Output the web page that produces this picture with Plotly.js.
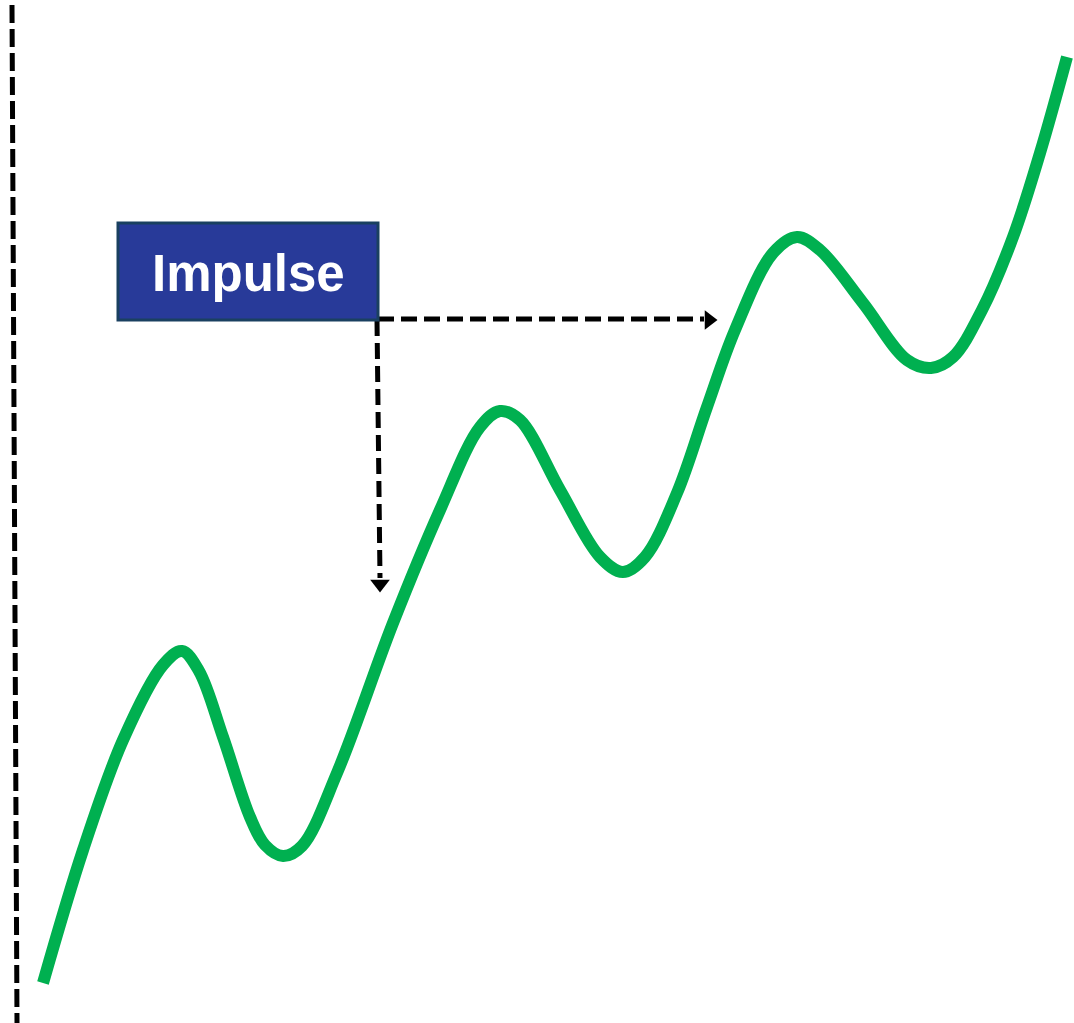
<!DOCTYPE html>
<html>
<head>
<meta charset="utf-8">
<script src="https://cdn.plot.ly/plotly-3.0.1.min.js"></script>
<style>html,body{margin:0;padding:0;background:#fff;}#chart{width:1074px;height:1023px;}</style>
</head>
<body>
<div id="chart"></div>
<script>
// Price path (diagram units: x to the right, y downward)
const pathX = [43, 83, 123, 163, 182, 199, 223, 250, 265, 283, 302, 337, 393, 440, 480, 500, 520, 560, 600, 623, 645, 677, 707, 735, 773, 797, 820, 863, 907, 931, 953, 982, 1013, 1040, 1067];
const pathY = [983, 850, 740, 665, 651, 671, 737, 817, 845, 856, 846, 773, 623, 510, 427, 411, 420, 490, 557, 572, 557, 493, 407, 330, 253, 237, 250, 303, 360, 368, 357, 310, 237, 153, 57];

// Dashed vertical reference line
const refLineX = [12, 17];
const refLineY = [5, 1023];

// Label box
const boxX = [118, 378];
const boxY = [223, 320];
const labelText = "Impulse";

// Arrows from box corner
const arrowOrigin = [378, 320];
const arrowRightEnd = [704, 320];
const arrowDownEnd = [380, 578];
const headRight = {x: [709], y: [320]};
const headDown = {x: [380], y: [584]};

const traces = [
  {x: pathX, y: pathY, mode: 'lines', line: {color: '#00b050', width: 12, shape: 'spline', smoothing: 1, simplify: false}, hoverinfo: 'skip'},
  {x: headRight.x, y: headRight.y, mode: 'markers', marker: {symbol: 'triangle-right', size: 17, color: '#000'}, hoverinfo: 'skip'},
  {x: headDown.x, y: headDown.y, mode: 'markers', marker: {symbol: 'triangle-down', size: 17, color: '#000'}, hoverinfo: 'skip'}
];

const layout = {
  width: 1074, height: 1023,
  margin: {l: 0, r: 0, t: 0, b: 0},
  paper_bgcolor: '#fff', plot_bgcolor: '#fff',
  showlegend: false,
  xaxis: {range: [0, 1074], visible: false, fixedrange: true},
  yaxis: {range: [1023, 0], visible: false, fixedrange: true},
  shapes: [
    {type: 'line', xref: 'x', yref: 'y', x0: refLineX[0], x1: refLineX[1], y0: refLineY[0], y1: refLineY[1], line: {color: '#000', width: 5, dash: '18px,6px'}},
    {type: 'line', xref: 'x', yref: 'y', x0: arrowOrigin[0], x1: arrowRightEnd[0], y0: arrowOrigin[1] - 1, y1: arrowRightEnd[1] - 1, line: {color: '#000', width: 5, dash: '16px,7px'}},
    {type: 'line', xref: 'x', yref: 'y', x0: arrowOrigin[0] - 1, x1: arrowDownEnd[0], y0: arrowOrigin[1], y1: arrowDownEnd[1], line: {color: '#000', width: 5, dash: '16px,7px'}},
    {type: 'rect', xref: 'x', yref: 'y', x0: boxX[0], x1: boxX[1], y0: boxY[0], y1: boxY[1], fillcolor: '#283a99', line: {color: '#1a4060', width: 3}, layer: 'above'}
  ],
  annotations: [
    {x: (boxX[0] + boxX[1]) / 2, y: (boxY[0] + boxY[1]) / 2 + 2, xref: 'x', yref: 'y', text: '<b>' + labelText + '</b>', showarrow: false,
     font: {family: 'Liberation Sans, Arial, sans-serif', size: 51, color: '#fff'}}
  ]
};

Plotly.newPlot('chart', traces, layout, {staticPlot: true, displayModeBar: false});
</script>
</body>
</html>
